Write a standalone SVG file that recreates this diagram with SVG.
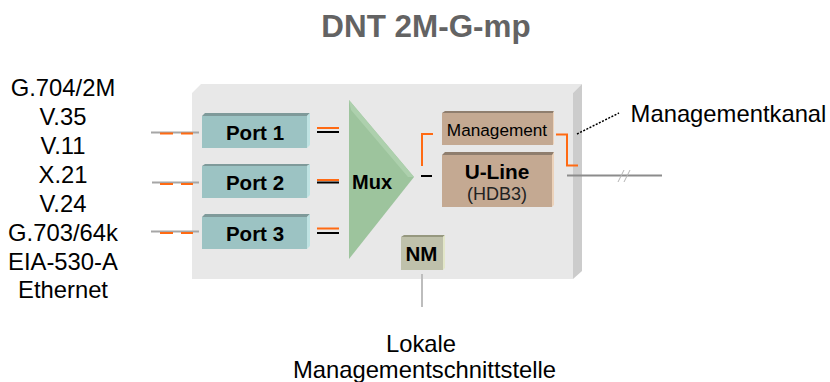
<svg xmlns="http://www.w3.org/2000/svg" width="830" height="382" viewBox="0 0 830 382">
<style>
text{font-family:"Liberation Sans",Arial,sans-serif;fill:#000;text-anchor:middle}
.lbl{font-size:23.800px}
.b{font-weight:bold;font-size:20.500px}
.port{fill:#9cc3c3}.portT{fill:#7f9a9a}.portR{fill:#bfe3e3}
.tan{fill:#c4a992}.tanT{fill:#8f7e6e}.tanR{fill:#ecd3bb}
.gy{stroke:#a6a6a6;stroke-width:2;fill:none}
.or{stroke:#ff6a13;stroke-width:2;fill:none}
.bk{stroke:#000;stroke-width:2;fill:none}
</style>
<text x="426" y="37" style="font-size:31.400px;font-weight:bold;fill:#636363">DNT 2M-G-mp</text>
<g id="labels-left">
<text class="lbl" x="63" y="96">G.704/2M</text>
<text class="lbl" x="63" y="125">V.35</text>
<text class="lbl" x="63" y="154">V.11</text>
<text class="lbl" x="63" y="183">X.21</text>
<text class="lbl" x="63" y="212">V.24</text>
<text class="lbl" x="63" y="241">G.703/64k</text>
<text class="lbl" x="63" y="270">EIA-530-A</text>
<text class="lbl" x="63" y="298">Ethernet</text>
</g>
<g id="panel">
<polygon points="192,93 201,84 582,84 573,93 573,279 192,279" fill="#e8e8e8"/>
<polygon points="573,93 582,84 582,271 573,279" fill="#cccccc"/>
</g>
<g id="connectors">
<path class="gy" d="M151 132.500H199M152 182.500H199M151 231.500H199"/>
<path class="or" d="M160 133.500H173M181 133.500H193M160 184H173M181 184H193M160 233H173M181 233H193"/>
<path class="or" d="M317 128H339M317 180H339M317 228.500H339" stroke-width="1.500"/>
<path class="bk" d="M317 132H339M317 182.500H339M317 233H339M421 176H432"/>
<path class="or" d="M422 166V134H433M556 134.500H567V165.500H578"/>
<path d="M567 175.500H662" stroke="#8c8c8c" stroke-width="2" fill="none"/>
<path d="M618 182L624 170M624 182L630 170" stroke="#b5b5b5" stroke-width="1" fill="none"/>
<path d="M577 134L619 113" stroke="#000" stroke-width="1.500" stroke-dasharray="2 1.500" fill="none"/>
<path d="M422 274V307" stroke="#bdbdbd" stroke-width="2" fill="none"/>
</g>
<g id="port1">
<polygon class="portT" points="202,116 205,113 310,113 307,116"/><polygon class="portR" points="307,116 310,113 310,145 307,148"/>
<rect class="port" x="202" y="116" width="105" height="32"/>
<text class="b" x="255" y="140">Port 1</text>
</g>
<g id="port2">
<polygon class="portT" points="202,166 205,164 310,164 307,166"/><polygon class="portR" points="307,166 310,164 310,195 307,198"/>
<rect class="port" x="202" y="166" width="105" height="32"/>
<text class="b" x="255" y="190">Port 2</text>
</g>
<g id="port3">
<polygon class="portT" points="202,217 205,214 310,214 307,217"/><polygon class="portR" points="307,217 310,214 310,246 307,249"/>
<rect class="port" x="202" y="217" width="105" height="32"/>
<text class="b" x="255" y="241">Port 3</text>
</g>
<g id="mux">
<polygon points="349,100 414,177 349,259" fill="#9dc49d"/>
<polygon points="349,100 414,177 408,177 351,110" fill="#add0ad"/>
<text class="b" x="372" y="189" style="font-size:20px">Mux</text>
</g>
<g id="management">
<polygon class="tanT" points="442,113 445,111 554,111 553,113"/><polygon class="tanR" points="553,113 554,111 554,144 553,145"/>
<rect class="tan" x="442" y="113" width="111" height="32"/>
<text x="497" y="136" style="font-size:17.200px">Management</text>
</g>
<g id="uline">
<polygon class="tanT" points="442,155 445,152 554,152 553,155"/><polygon class="tanR" points="552,155 554,152 554,205 552,207"/>
<rect class="tan" x="442" y="155" width="110" height="52"/>
<text class="b" x="497" y="179" style="font-size:20.800px">U-Line</text>
<text x="497" y="200" style="font-size:18px;fill:#222">(HDB3)</text>
</g>
<g id="nm">
<polygon points="401,237 404,235 445,235 443,237" fill="#96987f"/><polygon points="443,237 445,235 445,268 443,270" fill="#e2e6c8"/>
<rect x="401" y="237" width="42" height="33" fill="#bfc1ab"/>
<text class="b" x="421.500" y="261">NM</text>
</g>
<text class="lbl" x="728.500" y="122">Managementkanal</text>
<text class="lbl" x="421" y="352">Lokale</text>
<text class="lbl" x="424.500" y="378">Managementschnittstelle</text>
</svg>
